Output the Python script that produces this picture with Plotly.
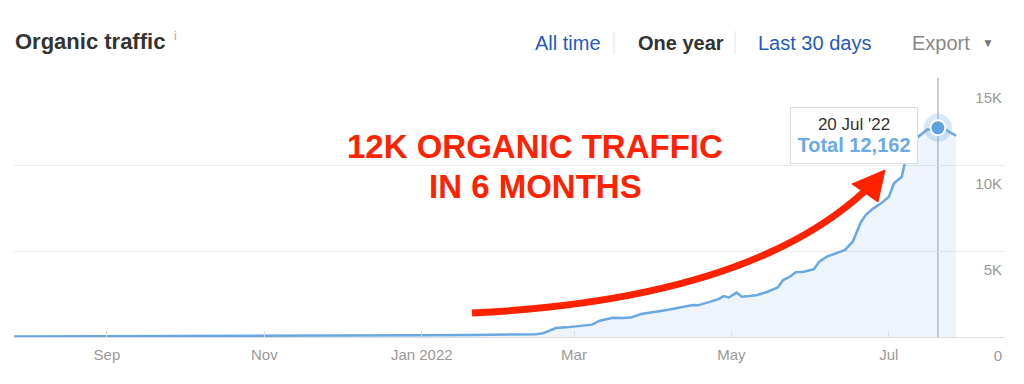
import datetime as dt
import plotly.graph_objects as go

# ---------------- data ----------------
dates = [
    "2021-07-27", "2021-08-15", "2021-09-10", "2021-10-01", "2021-10-25",
    "2021-11-20", "2021-12-10", "2021-12-31", "2022-01-20", "2022-02-05",
    "2022-02-14", "2022-02-17", "2022-02-20", "2022-02-22", "2022-02-26",
    "2022-03-01", "2022-03-04", "2022-03-06", "2022-03-08", "2022-03-11",
    "2022-03-16", "2022-03-20", "2022-03-23", "2022-03-27", "2022-04-02",
    "2022-04-06", "2022-04-11", "2022-04-14", "2022-04-16", "2022-04-18",
    "2022-04-20", "2022-04-24", "2022-04-26", "2022-04-28", "2022-04-30",
    "2022-05-03", "2022-05-05", "2022-05-08", "2022-05-11", "2022-05-15",
    "2022-05-19", "2022-05-21", "2022-05-23", "2022-05-26", "2022-05-29",
    "2022-06-02", "2022-06-04", "2022-06-07", "2022-06-10", "2022-06-14",
    "2022-06-17", "2022-06-20", "2022-06-22", "2022-06-25", "2022-06-28",
    "2022-07-01", "2022-07-03", "2022-07-06", "2022-07-07", "2022-07-09",
    "2022-07-12", "2022-07-14", "2022-07-16", "2022-07-18", "2022-07-20",
    "2022-07-23", "2022-07-25", "2022-07-27",
]
traffic = [
    30, 35, 40, 45, 50,
    60, 75, 100, 120, 140,
    160, 220, 400, 520, 560,
    600, 640, 650, 720, 950,
    1120, 1100, 1130, 1340, 1470,
    1570, 1720, 1780, 1860, 1840,
    1920, 2090, 2200, 2380, 2300,
    2580, 2340, 2380, 2440, 2630,
    2890, 3310, 3450, 3760, 3800,
    3940, 4380, 4670, 4850, 5060,
    5540, 6630, 7090, 7480, 7770,
    8160, 8940, 9320, 10000, 11000,
    11600, 11850, 12070, 12050, 12162,
    12050, 11860, 11700,
]

hover_date = "2022-07-20"
hover_value = 12162

x_tick_vals = ["2021-09-01", "2021-11-01", "2022-01-01", "2022-03-01", "2022-05-01", "2022-07-01"]
x_tick_text = ["Sep", "Nov", "Jan 2022", "Mar", "May", "Jul"]
y_tick_vals = [0, 5000, 10000, 15000]
y_tick_text = ["0", "5K", "10K", "15K"]
x_range = ["2021-07-27", "2022-08-15"]
y_range = [0, 15000]

title = "Organic traffic"
tabs = ["All time", "One year", "Last 30 days"]
callout = ["12K ORGANIC TRAFFIC", "IN 6 MONTHS"]

# ---------------- style ----------------
FONT = "Liberation Sans, Arial, Helvetica, sans-serif"
LINE_BLUE = "#6aa8e2"
FILL_BLUE = "rgba(106,168,226,0.12)"
RED = "#ff2200"

W, H = 1024, 384
BODY = 8  # default page body margin offsets the figure
# plot area in page pixels
PL, PR, PT, PB = 14, 1005, 79, 337
PW, PH = PR - PL, PB - PT
ML, MT = PL - BODY, PT - BODY
MR, MB = W - (PR - BODY), H - (PB - BODY)


def px(x):
    return (x - PL) / PW


def py(y):
    return (PB - y) / PH


fig = go.Figure()

fig.add_trace(go.Scatter(
    x=dates, y=traffic, mode="lines",
    line=dict(color=LINE_BLUE, width=2.5),
    fill="tozeroy", fillcolor=FILL_BLUE,
    hoverinfo="skip", showlegend=False,
))

# hover guide line (below the traces so the point sits on top)
fig.add_shape(type="line", xref="x", yref="paper",
              x0=hover_date, x1=hover_date, y0=0, y1=1.005,
              line=dict(color="#bdbdc2", width=1.5), layer="below")

# hover point with halo
fig.add_trace(go.Scatter(
    x=[hover_date], y=[hover_value], mode="markers",
    marker=dict(size=28, color="rgba(106,168,226,0.28)", line=dict(width=0)),
    hoverinfo="skip", showlegend=False,
))
fig.add_trace(go.Scatter(
    x=[hover_date], y=[hover_value], mode="markers",
    marker=dict(size=15, color="#5fa2e0", line=dict(color="white", width=2)),
    hoverinfo="skip", showlegend=False,
))

# tooltip
hd = dt.date.fromisoformat(hover_date)
tip_date = f"{hd.day} {hd:%b} '{hd:%y}"
tip_val = f"Total {hover_value:,}"
fig.add_annotation(
    x=hover_date, y=hover_value, xref="x", yref="y",
    xanchor="right", yanchor="middle", xshift=-20, yshift=-8,
    text=(f"<span style='font-size:17px;color:#333333'>{tip_date}</span><br>"
          f"<span style='font-size:20px;color:#6aaae6'><b>{tip_val}</b></span>"),
    showarrow=False, align="center", width=118, height=47, valign="middle",
    bgcolor="white", bordercolor="#dcdcdc", borderwidth=1, borderpad=4,
    font=dict(family=FONT, size=17),
)

# red callout text
for line, yc in zip(callout, [146, 186]):
    fig.add_annotation(
        x=px(535), y=py(yc), xref="paper", yref="paper",
        xanchor="center", yanchor="middle", showarrow=False,
        text=f"<b>{line}</b>",
        font=dict(family=FONT, size=33, color=RED), align="center",
    )

# red curved arrow
p0, c1, c2, p3 = (472, 313), (640, 305), (780, 270), (866, 190)
path = (f"M {px(p0[0])},{py(p0[1])} C {px(c1[0])},{py(c1[1])} "
        f"{px(c2[0])},{py(c2[1])} {px(p3[0])},{py(p3[1])}")
fig.add_shape(type="path", xref="paper", yref="paper", path=path,
              line=dict(color=RED, width=7), layer="above")
tip, w1, w2 = (885, 170), (852, 184), (878, 202)
head = (f"M {px(tip[0])},{py(tip[1])} L {px(w1[0])},{py(w1[1])} "
        f"L {px(w2[0])},{py(w2[1])} Z")
fig.add_shape(type="path", xref="paper", yref="paper", path=head,
              fillcolor=RED, line=dict(color=RED, width=1), layer="above")

# header
fig.add_annotation(x=px(13), y=py(42), xref="paper", yref="paper",
                   xanchor="left", yanchor="middle", showarrow=False,
                   text=f"<b>{title}</b>",
                   font=dict(family=FONT, size=22, color="#333333"))
fig.add_annotation(x=px(172), y=py(36), xref="paper", yref="paper",
                   xanchor="left", yanchor="middle", showarrow=False,
                   text="i", font=dict(family=FONT, size=12, color="#aaaaaa"))

tab_left = [533, 636, 756]
for name, left in zip(tabs, tab_left):
    active = name == "One year"
    fig.add_annotation(
        x=px(left), y=py(43), xref="paper", yref="paper",
        xanchor="left", yanchor="middle", showarrow=False,
        text=f"<b>{name}</b>" if active else name,
        font=dict(family=FONT, size=20, color="#333333" if active else "#1f5cbc"),
    )
for sx in [614, 735]:
    fig.add_shape(type="line", xref="paper", yref="paper",
                  x0=px(sx), x1=px(sx), y0=py(31), y1=py(54),
                  line=dict(color="#e6e6e6", width=1))
fig.add_annotation(x=px(910), y=py(43), xref="paper", yref="paper",
                   xanchor="left", yanchor="middle", showarrow=False,
                   text="Export", font=dict(family=FONT, size=20, color="#888888"))
fig.add_annotation(x=px(988), y=py(43), xref="paper", yref="paper",
                   xanchor="center", yanchor="middle", showarrow=False,
                   text="▼", font=dict(family=FONT, size=12, color="#777777"))

fig.update_layout(
    width=W, height=H, autosize=False,
    margin=dict(l=ML, r=MR, t=MT, b=MB, pad=0),
    paper_bgcolor="white", plot_bgcolor="white",
    font=dict(family=FONT),
    showlegend=False,
    xaxis=dict(
        type="date", range=x_range,
        tickvals=x_tick_vals, ticktext=x_tick_text,
        ticks="inside", ticklen=6, tickcolor="#dddddd", tickwidth=1,
        showgrid=False, zeroline=False,
        showline=True, linecolor="#dddddd", linewidth=1,
        tickfont=dict(size=15, color="#999999"),
        ticklabelstandoff=4,
        fixedrange=True,
    ),
    yaxis=dict(
        range=y_range, side="right",
        tickvals=y_tick_vals, ticktext=y_tick_text,
        ticklabelposition="inside", ticklabeloverflow="allow",
        ticklabelshift=19,
        showgrid=True, gridcolor="#ebebeb", gridwidth=1,
        zeroline=False, showline=False, ticks="",
        tickfont=dict(size=15, color="#999999"),
        fixedrange=True,
    ),
)

fig.write_html("out.html")
